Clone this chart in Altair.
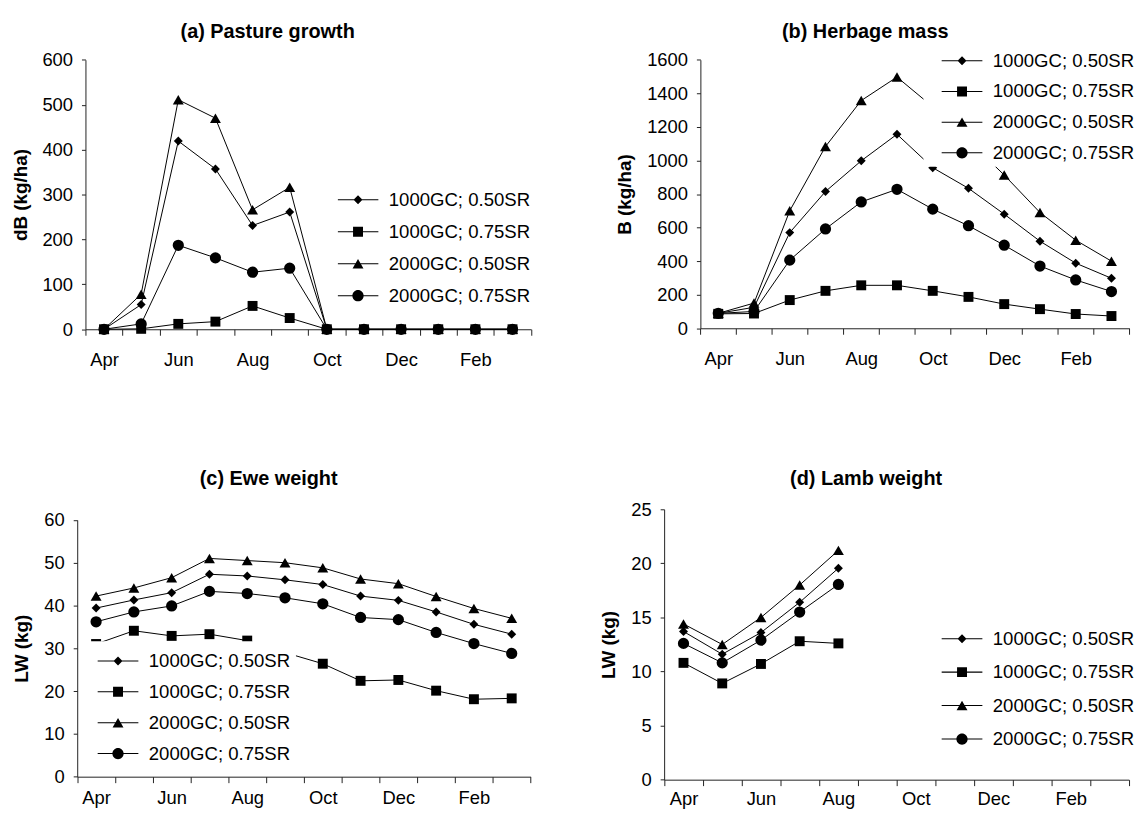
import json
import altair as alt
import pandas as pd

FONT = "Liberation Sans"

months = ["Apr", "May", "Jun", "Jul", "Aug", "Sep", "Oct", "Nov", "Dec", "Jan", "Feb", "Mar"]
shown_months = ["Apr", "Jun", "Aug", "Oct", "Dec", "Feb"]
series = ["1000GC; 0.50SR", "1000GC; 0.75SR", "2000GC; 0.50SR", "2000GC; 0.75SR"]

# (a) Pasture growth dB (kg/ha)
growth_1000_050 = [0, 55, 419, 357, 231, 261, 0, 0, 0, 0, 0, 0]
growth_1000_075 = [0, 1, 12, 17, 52, 25, 0, 0, 0, 0, 0, 0]
growth_2000_050 = [0, 78, 511, 470, 266, 316, 0, 0, 0, 0, 0, 0]
growth_2000_075 = [0, 12, 187, 159, 127, 136, 0, 0, 0, 0, 0, 0]

# (b) Herbage mass B (kg/ha)
mass_1000_050 = [89, 125, 570, 815, 998, 1156, 957, 834, 680, 519, 388, 298]
mass_1000_075 = [86, 88, 168, 223, 256, 256, 223, 187, 144, 114, 85, 73]
mass_2000_050 = [89, 150, 700, 1083, 1357, 1497, 1320, 1120, 913, 690, 525, 400]
mass_2000_075 = [89, 100, 406, 592, 753, 828, 710, 611, 495, 371, 288, 219]

# (c) Ewe weight LW (kg)
ewe_1000_050 = [39.4, 41.3, 43.0, 47.3, 46.9, 46.0, 44.9, 42.2, 41.2, 38.5, 35.6, 33.3]
ewe_1000_075 = [31.0, 34.1, 32.9, 33.3, 31.8, 29.0, 26.4, 22.4, 22.6, 20.1, 18.1, 18.3]
ewe_2000_050 = [42.2, 44.1, 46.5, 51.0, 50.5, 50.0, 48.8, 46.2, 45.1, 42.1, 39.3, 37.0]
ewe_2000_075 = [36.2, 38.5, 39.9, 43.3, 42.8, 41.8, 40.4, 37.2, 36.7, 33.7, 31.1, 28.8]

# (d) Lamb weight LW (kg), Apr..Aug only
lamb_1000_050 = [13.7, 11.6, 13.6, 16.4, 19.55]
lamb_1000_075 = [10.8, 8.9, 10.7, 12.8, 12.6]
lamb_2000_050 = [14.4, 12.5, 15.0, 18.0, 21.2]
lamb_2000_075 = [12.6, 10.8, 12.9, 15.5, 18.05]

shapes = ["diamond", "square", "triangle-up", "circle"]
shape_sizes = [81, 100, 121, 128]
# legend symbols: a thin bar (the line) plus the marker, all drawn clockwise
LINE = "M-1,-0.025H1V0.025H-1Z"
legend_paths = [
    LINE + "M-0.22,0L0,-0.22L0.22,0L0,0.22Z",
    LINE + "M-0.244,-0.244H0.244V0.244H-0.244Z",
    LINE + "M0,-0.232L0.268,0.232H-0.268Z",
    LINE + "M0.276,0A0.276,0.276,0,1,1,-0.276,0A0.276,0.276,0,1,1,0.276,0Z",
]

CW, CH = 1134, 802  # whole drawing area


def make_df(vals):
    rows = []
    for s, arr in zip(series, vals):
        for i, v in enumerate(arr):
            rows.append({"month": months[i], "idx": i, "value": v, "series": s})
    return pd.DataFrame(rows)


label_expr = "indexof(%s, datum.value) >= 0 ? datum.value : ''" % json.dumps(shown_months)


def panel(title, title_xy, ytitle, vals, ymax, ystep, xrange, yrange, leg, xlabpad=15):
    df = make_df(vals)
    xs = alt.Scale(type="band", domain=months, paddingInner=0, paddingOuter=0, range=xrange)
    ys = alt.Scale(domain=[0, ymax], nice=False, zero=True, range=yrange)
    x_axis = alt.Axis(
        orient="bottom", offset=yrange[0] - CH,
        title=title, titleX=title_xy[0], titleY=title_xy[1] - yrange[0],
        titleAlign="center", titleBaseline="middle", titleFont=FONT, titleFontSize=20,
        titleFontWeight="bold", titleColor="black",
        tickBand="extent", labelExpr=label_expr, labelAngle=0,
        tickSize=6, labelPadding=xlabpad, grid=False, domainColor="#222",
        tickColor="#222", labelColor="black", labelFontSize=18.5, labelFont=FONT)
    y_axis = alt.Axis(
        orient="left", offset=-xrange[0],
        title=ytitle, values=list(range(0, ymax + 1, ystep)), format="d", tickSize=4,
        labelPadding=9, titlePadding=12, grid=False, domainColor="#222",
        tickColor="#222", labelColor="black", labelFontSize=18.5, labelFont=FONT,
        titleFont=FONT, titleFontSize=19, titleFontWeight="bold", titleColor="black")

    x_enc = alt.X("month:N", scale=xs, axis=x_axis, bandPosition=0.5)
    y_enc = alt.Y("value:Q", scale=ys, axis=y_axis)

    base = alt.Chart(df)
    layers = [base.mark_line(color="black", strokeWidth=1).encode(
        x=x_enc, y=y_enc, detail="series:N", order="idx:Q")]
    for s, shp, sz in zip(series, shapes, shape_sizes):
        layers.append(
            base.transform_filter(alt.datum.series == s).mark_point(
                shape=shp, size=sz, filled=True, opacity=1, color="black"
            ).encode(x=x_enc, y=y_enc)
        )
    legend = alt.Legend(
        title=None, orient="none", legendX=leg["x"], legendY=leg["y"],
        symbolSize=1681, symbolStrokeWidth=0, symbolFillColor="black", symbolOpacity=1,
        symbolOffset=leg["so"], labelOffset=10.5, clipHeight=leg["h"],
        rowPadding=leg["rp"], padding=leg["p"], fillColor="white", labelFontSize=18.7,
        labelFont=FONT, labelColor="black", labelLimit=300,
    )
    layers.append(
        base.transform_filter("false").mark_point(
            filled=True, opacity=1, color="black", size=1681
        ).encode(
            x=x_enc, y=y_enc,
            shape=alt.Shape("series:N", scale=alt.Scale(domain=series, range=legend_paths),
                            legend=legend),
        )
    )
    return alt.layer(*layers)


pa = panel("(a) Pasture growth", (261, 21.3), "dB (kg/ha)",
           [growth_1000_050, growth_1000_075, growth_2000_050, growth_2000_075],
           600, 100, [78, 526.8], [320.7, 49.3],
           dict(x=330, y=177.3, so=0, h=22, rp=10.2, p=2))
pb = panel("(b) Herbage mass", (862.8, 21.3), "B (kg/ha)",
           [mass_1000_050, mass_1000_075, mass_2000_050, mass_2000_075],
           1600, 200, [697.3, 1129.3], [319.7, 49.3],
           dict(x=922, y=37, so=16.3, h=22.6, rp=7.9, p=2))
pc = panel("(c) Ewe weight", (262, 471), "LW (kg)",
           [ewe_1000_050, ewe_1000_075, ewe_2000_050, ewe_2000_075],
           60, 10, [69.7, 526.3], [771.3, 512.7],
           dict(x=73, y=635, so=12.3, h=29.4, rp=1.1, p=5), xlabpad=6)
pd_ = panel("(d) Lamb weight", (863.7, 471), "LW (kg)",
            [lamb_1000_050, lamb_1000_075, lamb_2000_050, lamb_2000_075],
            25, 5, [660.8, 1128.8], [774.3, 502],
            dict(x=922, y=619, so=16.3, h=22.6, rp=10.7, p=2), xlabpad=4)

chart = alt.layer(pa, pb, pc, pd_).resolve_scale(
    x="independent", y="independent", shape="independent"
).resolve_legend(shape="independent").properties(
    width=CW, height=CH,
    autosize=alt.AutoSizeParams(type="none"),
    padding=0,
    background="white",
).configure_view(stroke=None).configure_legend(symbolLimit=0)

chart.save("out.html", embed_options={"renderer": "svg", "actions": False})
